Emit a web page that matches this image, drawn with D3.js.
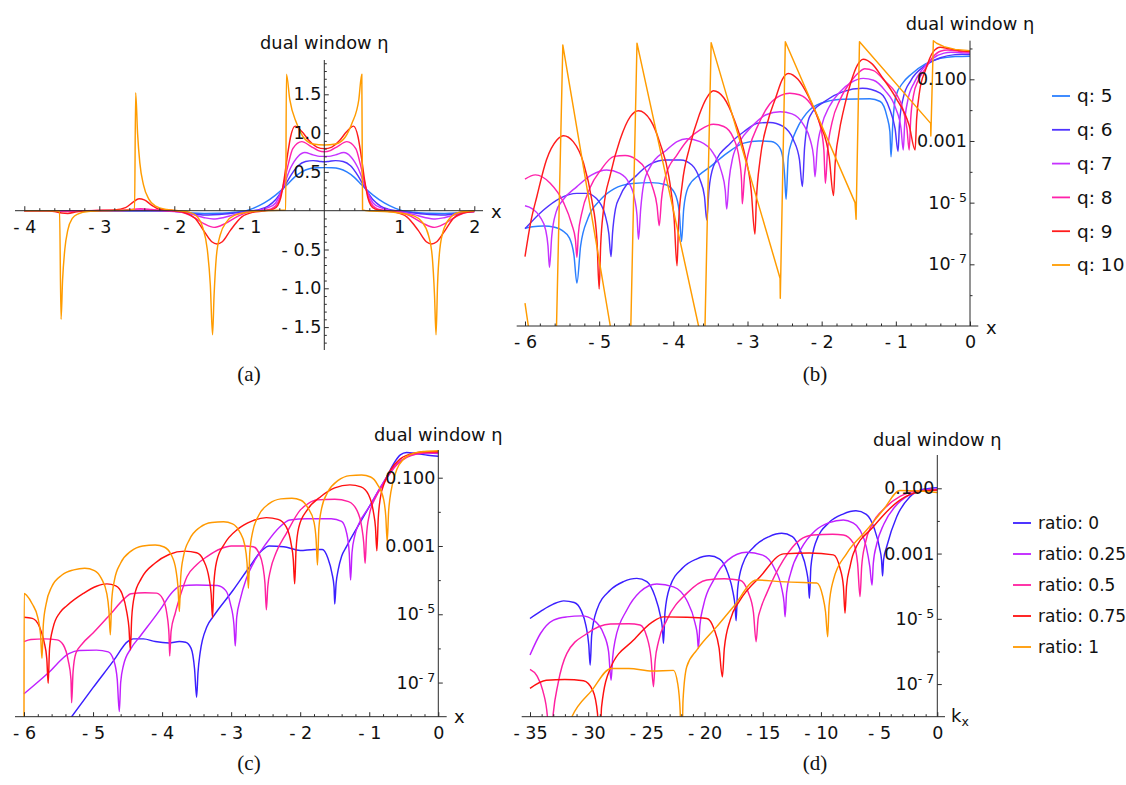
<!DOCTYPE html>
<html>
<head>
<meta charset="utf-8">
<script src="https://cdn.jsdelivr.net/npm/d3@7"></script>
<style>
  body { margin: 0; background: #fff; }
  svg { display: block; }
</style>
</head>
<body>
<svg id="fig" width="1126" height="785"></svg>
<script>
// ---------- panel (a): dual window eta, linear scale, [x, eta] ----------
const aQ5 = [[-4,0],[-2.1,0],[-1.9,-0.015],[-1.75,-0.03],[-1.6,-0.035],[-1.4,-0.033],[-1.2,-0.02],[-1.05,-0.003],[-0.95,0.03],[-0.8,0.1],[-0.65,0.2],[-0.5,0.33],[-0.4,0.43],[-0.3,0.5],[-0.2,0.54],[-0.1,0.553],[0,0.555],[0.1,0.553],[0.2,0.54],[0.3,0.5],[0.4,0.43],[0.5,0.33],[0.65,0.2],[0.8,0.1],[0.95,0.03],[1.05,-0.003],[1.2,-0.02],[1.4,-0.033],[1.6,-0.035],[1.75,-0.03],[1.9,-0.015],[2,-0.01]];
const aQ6 = [[-4,0],[-2,0],[-1.85,-0.02],[-1.7,-0.045],[-1.55,-0.056],[-1.4,-0.05],[-1.2,-0.03],[-1,-0.005],[-0.85,0.02],[-0.75,0.06],[-0.65,0.14],[-0.55,0.28],[-0.45,0.45],[-0.35,0.58],[-0.25,0.635],[-0.15,0.645],[-0.06,0.635],[0,0.63],[0.06,0.635],[0.15,0.645],[0.25,0.635],[0.35,0.58],[0.45,0.45],[0.55,0.28],[0.65,0.14],[0.75,0.06],[0.85,0.02],[1,-0.005],[1.2,-0.03],[1.4,-0.05],[1.55,-0.056],[1.7,-0.045],[1.85,-0.02],[2,-0.008]];
const aQ7 = [[-4,0],[-2.7,0],[-2.45,0.008],[-2.2,0],[-1.9,-0.02],[-1.75,-0.05],[-1.6,-0.09],[-1.48,-0.107],[-1.35,-0.09],[-1.2,-0.05],[-1,-0.01],[-0.85,0.01],[-0.75,0.04],[-0.65,0.1],[-0.55,0.3],[-0.45,0.55],[-0.35,0.7],[-0.26,0.75],[-0.15,0.72],[-0.06,0.7],[0,0.7],[0.06,0.7],[0.15,0.72],[0.26,0.75],[0.35,0.7],[0.45,0.55],[0.55,0.3],[0.65,0.1],[0.75,0.04],[0.85,0.01],[1,-0.01],[1.2,-0.05],[1.35,-0.09],[1.48,-0.107],[1.6,-0.09],[1.75,-0.05],[1.9,-0.02],[2,-0.01]];
const aQ8 = [[-4,0],[-3.6,0],[-3.45,-0.01],[-3.2,0],[-2.8,0.005],[-2.6,0.015],[-2.45,0.025],[-2.3,0.015],[-2.1,0],[-1.9,-0.02],[-1.75,-0.08],[-1.6,-0.17],[-1.47,-0.215],[-1.33,-0.17],[-1.15,-0.07],[-1,-0.015],[-0.85,0],[-0.72,0.02],[-0.65,0.06],[-0.59,0.17],[-0.54,0.35],[-0.48,0.6],[-0.42,0.8],[-0.3,0.89],[-0.18,0.83],[-0.08,0.775],[0,0.76],[0.08,0.775],[0.18,0.83],[0.3,0.89],[0.42,0.8],[0.48,0.6],[0.54,0.35],[0.59,0.17],[0.65,0.06],[0.72,0.02],[0.85,0],[1,-0.015],[1.15,-0.07],[1.33,-0.17],[1.47,-0.215],[1.6,-0.17],[1.75,-0.08],[1.9,-0.02],[2,-0.01]];
const aQ9 = [[-4,0],[-3.7,0],[-3.6,-0.01],[-3.5,-0.03],[-3.42,-0.035],[-3.3,-0.015],[-3.1,0],[-2.8,0.01],[-2.65,0.04],[-2.55,0.11],[-2.47,0.155],[-2.4,0.14],[-2.3,0.07],[-2.2,0.02],[-2,0],[-1.85,-0.03],[-1.72,-0.1],[-1.6,-0.27],[-1.5,-0.4],[-1.43,-0.43],[-1.36,-0.4],[-1.25,-0.25],[-1.1,-0.08],[-0.95,-0.02],[-0.82,-0.005],[-0.75,0.005],[-0.68,0.02],[-0.62,0.07],[-0.58,0.17],[-0.54,0.38],[-0.49,0.72],[-0.45,0.95],[-0.39,1.09],[-0.3,1.02],[-0.2,0.9],[-0.1,0.82],[0,0.8],[0.1,0.82],[0.2,0.9],[0.3,1.02],[0.39,1.09],[0.45,0.95],[0.49,0.72],[0.54,0.38],[0.58,0.17],[0.62,0.07],[0.68,0.02],[0.75,0.005],[0.82,-0.005],[0.95,-0.02],[1.1,-0.08],[1.25,-0.25],[1.36,-0.4],[1.43,-0.43],[1.5,-0.4],[1.6,-0.27],[1.72,-0.1],[1.85,-0.03],[2,-0.01]];
const aQ10 = [[-4,0],[-3.6,0],[-3.53,-0.01],[-3.51,-1.4],[-3.49,-0.9],[-3.46,-0.5],[-3.42,-0.25],[-3.36,-0.1],[-3.28,-0.04],[-3.15,-0.01],[-2.9,0],[-2.6,0.01],[-2.53,0.02],[-2.515,1.52],[-2.49,1],[-2.46,0.62],[-2.41,0.33],[-2.34,0.15],[-2.25,0.06],[-2.1,0.015],[-1.95,0],[-1.8,-0.02],[-1.7,-0.07],[-1.62,-0.22],[-1.56,-0.5],[-1.52,-0.95],[-1.49,-1.6],[-1.47,-1.1],[-1.44,-0.6],[-1.39,-0.32],[-1.3,-0.14],[-1.2,-0.06],[-1,-0.015],[-0.8,0],[-0.6,0.005],[-0.515,0.01],[-0.505,1.76],[-0.46,1.43],[-0.37,1.13],[-0.28,0.95],[-0.15,0.86],[0,0.846],[0.15,0.86],[0.28,0.95],[0.37,1.13],[0.46,1.43],[0.5,1.76],[0.51,0.01],[0.6,-0.005],[0.8,-0.01],[1,-0.03],[1.2,-0.07],[1.3,-0.14],[1.39,-0.32],[1.44,-0.6],[1.47,-1.1],[1.49,-1.6],[1.51,-0.95],[1.54,-0.5],[1.6,-0.22],[1.7,-0.07],[1.8,-0.02],[2,0]];

// ---------- panel (b): [x, log10 |eta|] ----------
const bQ5 = [[-6,-5.83],[-5.9,-5.78],[-5.75,-5.76],[-5.6,-5.8],[-5.5,-5.9],[-5.4,-6.15],[-5.34,-6.7],[-5.3,-7.61],[-5.25,-6.4],[-5.15,-5.5],[-5,-4.95],[-4.8,-4.55],[-4.55,-4.38],[-4.3,-4.35],[-4.1,-4.42],[-3.98,-4.7],[-3.92,-5.3],[-3.89,-6.26],[-3.86,-5.2],[-3.8,-4.5],[-3.65,-4.1],[-3.5,-3.83],[-3.28,-3.4],[-3.05,-3.07],[-2.85,-3],[-2.68,-3.02],[-2.57,-3.2],[-2.52,-3.6],[-2.5,-4.1],[-2.48,-4.89],[-2.45,-3.5],[-2.4,-3],[-2.34,-2.64],[-2.16,-1.99],[-1.93,-1.72],[-1.71,-1.65],[-1.35,-1.63],[-1.21,-1.72],[-1.12,-2.2],[-1.08,-2.7],[-1.065,-3.51],[-1.04,-2.4],[-1,-1.55],[-0.9,-1.1],[-0.8,-0.85],[-0.6,-0.5],[-0.4,-0.32],[-0.2,-0.26],[0,-0.25]];
const bQ6 = [[-6,-5.85],[-5.75,-5.24],[-5.53,-4.86],[-5.3,-4.7],[-5.17,-4.7],[-5.04,-4.86],[-4.92,-5.4],[-4.87,-6],[-4.84,-6.75],[-4.82,-6],[-4.78,-5.2],[-4.72,-4.8],[-4.49,-4.1],[-4.31,-3.75],[-4.1,-3.62],[-3.9,-3.62],[-3.75,-3.78],[-3.64,-4.26],[-3.58,-4.8],[-3.55,-5.56],[-3.52,-4.6],[-3.46,-3.83],[-3.23,-3.07],[-3.05,-2.7],[-2.85,-2.42],[-2.7,-2.4],[-2.52,-2.53],[-2.38,-2.97],[-2.3,-3.6],[-2.26,-4.48],[-2.23,-3.2],[-2.16,-2.2],[-1.93,-1.67],[-1.71,-1.4],[-1.45,-1.29],[-1.21,-1.45],[-1.08,-1.99],[-1.01,-2.6],[-0.97,-3.34],[-0.95,-2.4],[-0.9,-1.6],[-0.8,-1.05],[-0.6,-0.55],[-0.4,-0.3],[-0.2,-0.2],[-0.1,-0.19],[0,-0.2]];
const bQ7 = [[-6,-5.1],[-5.9,-5.2],[-5.8,-5.45],[-5.72,-5.9],[-5.69,-6.4],[-5.67,-7.1],[-5.64,-6.1],[-5.58,-5.3],[-5.5,-4.95],[-5.3,-4.48],[-5.1,-4.1],[-4.9,-3.94],[-4.72,-4.05],[-4.6,-4.35],[-4.52,-4.9],[-4.49,-5.4],[-4.47,-6.19],[-4.44,-5.2],[-4.4,-4.4],[-4.31,-3.83],[-4.09,-3.29],[-3.95,-3.02],[-3.82,-2.93],[-3.64,-3.02],[-3.46,-3.4],[-3.35,-4],[-3.3,-4.6],[-3.28,-5.21],[-3.25,-4.3],[-3.2,-3.55],[-3.1,-3],[-2.95,-2.55],[-2.75,-2.15],[-2.56,-2.05],[-2.4,-2.12],[-2.25,-2.45],[-2.15,-3],[-2.11,-3.5],[-2.09,-4.16],[-2.06,-3.25],[-2,-2.5],[-1.9,-1.9],[-1.75,-1.4],[-1.6,-1.1],[-1.44,-0.97],[-1.3,-1.03],[-1.15,-1.35],[-1,-1.95],[-0.93,-2.6],[-0.9,-3.29],[-0.88,-2.4],[-0.84,-1.7],[-0.75,-1.1],[-0.65,-0.7],[-0.5,-0.32],[-0.35,-0.15],[-0.26,-0.125],[-0.12,-0.14],[0,-0.155]];
const bQ8 = [[-6,-4.24],[-5.86,-4.1],[-5.66,-4.37],[-5.48,-5],[-5.37,-5.7],[-5.32,-6.2],[-5.3,-6.77],[-5.28,-6],[-5.24,-5.4],[-5.12,-4.5],[-4.98,-3.95],[-4.8,-3.5],[-4.65,-3.47],[-4.5,-3.6],[-4.38,-3.9],[-4.28,-4.5],[-4.22,-5.1],[-4.19,-5.75],[-4.16,-4.9],[-4.1,-4.1],[-3.95,-3.45],[-3.8,-2.95],[-3.64,-2.64],[-3.46,-2.46],[-3.32,-2.53],[-3.19,-2.9],[-3.11,-3.6],[-3.08,-4.3],[-3.07,-5.04],[-3.04,-4.1],[-2.98,-3.3],[-2.85,-2.45],[-2.7,-1.8],[-2.55,-1.52],[-2.43,-1.45],[-2.3,-1.5],[-2.15,-1.8],[-2.02,-2.5],[-1.97,-3.3],[-1.95,-4.37],[-1.92,-3.3],[-1.86,-2.4],[-1.75,-1.65],[-1.6,-1.05],[-1.5,-0.78],[-1.42,-0.66],[-1.3,-0.72],[-1.15,-1.05],[-1,-1.45],[-0.9,-2],[-0.85,-2.6],[-0.82,-3.29],[-0.8,-2.3],[-0.76,-1.5],[-0.7,-1.05],[-0.6,-0.65],[-0.5,-0.28],[-0.4,-0.09],[-0.3,-0.05],[-0.15,-0.09],[0,-0.12]];
const bQ9 = [[-6,-6.75],[-5.92,-5.6],[-5.84,-4.8],[-5.71,-3.61],[-5.57,-2.97],[-5.48,-2.83],[-5.35,-3.02],[-5.21,-3.72],[-5.1,-4.9],[-5.03,-6.2],[-5,-7.8],[-4.98,-6.4],[-4.94,-5.2],[-4.85,-4.1],[-4.72,-2.97],[-4.58,-2.21],[-4.47,-2.02],[-4.31,-2.32],[-4.18,-3.07],[-4.06,-4.16],[-3.99,-5.5],[-3.95,-7.05],[-3.93,-5.7],[-3.88,-4.4],[-3.78,-3.2],[-3.65,-2.15],[-3.55,-1.6],[-3.46,-1.37],[-3.32,-1.6],[-3.18,-2.3],[-3.05,-3.3],[-2.95,-4.6],[-2.9,-6.02],[-2.88,-4.9],[-2.83,-3.6],[-2.73,-2.4],[-2.62,-1.6],[-2.53,-1],[-2.45,-0.81],[-2.32,-1],[-2.18,-1.55],[-2.03,-2.4],[-1.9,-3.5],[-1.84,-4.77],[-1.82,-3.8],[-1.77,-2.8],[-1.7,-1.95],[-1.6,-1.05],[-1.52,-0.55],[-1.44,-0.35],[-1.32,-0.5],[-1.18,-0.95],[-1,-1.6],[-0.82,-2.5],[-0.74,-3.29],[-0.72,-2.3],[-0.68,-1.4],[-0.6,-0.7],[-0.5,-0.12],[-0.4,0.04],[-0.3,0],[-0.15,-0.07],[0,-0.1]];
const bQ10 = [[-6,-8.26],[-5.955,-9],[-5.94,-9.6],[-5.585,-9.6],[-5.575,-9],[-5.49,0.11],[-4.85,-9],[-4.83,-9.6],[-4.58,-9.6],[-4.573,-9],[-4.49,0.17],[-3.66,-9],[-3.64,-9.6],[-3.58,-9.6],[-3.573,-9],[-3.49,0.19],[-2.561,-7.45],[-2.558,-8.1],[-2.49,0.22],[-1.55,-5],[-1.536,-5.54],[-1.49,0.22],[-0.53,-2.43],[-0.528,-2.84],[-0.494,0.25],[-0.45,0.17],[-0.35,0.06],[-0.2,-0.03],[0,-0.07]];

// ---------- panel (c): [x, log10 |eta|] ----------
const cR0 = [[-5.4,-8.25],[-5.31,-8],[-5,-7.15],[-4.7,-6.35],[-4.5,-5.8],[-4.42,-5.72],[-4.27,-5.72],[-4.1,-5.8],[-3.9,-5.84],[-3.75,-5.8],[-3.66,-5.82],[-3.58,-6],[-3.53,-6.6],[-3.5,-7.43],[-3.48,-6.7],[-3.45,-6.14],[-3.35,-5.36],[-3.26,-5.07],[-2.97,-4.29],[-2.73,-3.6],[-2.55,-3.12],[-2.45,-3],[-2.24,-3.02],[-2,-3.13],[-1.8,-3.1],[-1.68,-3.1],[-1.6,-3.35],[-1.54,-3.8],[-1.51,-4.2],[-1.5,-4.7],[-1.48,-4.1],[-1.45,-3.7],[-1.4,-3.3],[-1.33,-3.02],[-1.1,-2.2],[-0.9,-1.5],[-0.74,-0.95],[-0.65,-0.6],[-0.55,-0.33],[-0.46,-0.26],[-0.3,-0.3],[-0.15,-0.34],[0,-0.37]];
const cR25 = [[-6,-7.33],[-5.65,-6.72],[-5.35,-6.15],[-5.2,-6.06],[-4.95,-6.05],[-4.78,-6.1],[-4.7,-6.35],[-4.65,-6.9],[-4.62,-7.85],[-4.6,-7],[-4.56,-6.5],[-4.45,-6],[-4.32,-5.65],[-4.03,-4.87],[-3.85,-4.35],[-3.74,-4.17],[-3.5,-4.14],[-3.2,-4.16],[-3.08,-4.3],[-3.01,-4.7],[-2.96,-5.3],[-2.94,-5.93],[-2.92,-5.1],[-2.87,-4.58],[-2.78,-3.95],[-2.68,-3.51],[-2.49,-2.92],[-2.3,-2.45],[-2.15,-2.24],[-1.9,-2.2],[-1.55,-2.2],[-1.4,-2.28],[-1.33,-2.6],[-1.29,-3.2],[-1.27,-4],[-1.25,-3.2],[-1.21,-2.7],[-1.15,-2.35],[-1,-1.85],[-0.85,-1.32],[-0.74,-0.96],[-0.6,-0.6],[-0.45,-0.38],[-0.3,-0.3],[-0.15,-0.28],[0,-0.29]];
const cR50 = [[-6,-5.8],[-5.9,-5.74],[-5.7,-5.72],[-5.52,-5.75],[-5.43,-5.9],[-5.36,-6.35],[-5.32,-6.9],[-5.31,-7.59],[-5.29,-6.7],[-5.25,-6.15],[-5.15,-5.85],[-5,-5.55],[-4.75,-5],[-4.55,-4.55],[-4.45,-4.4],[-4.25,-4.37],[-4.08,-4.38],[-3.99,-4.55],[-3.93,-5],[-3.9,-5.6],[-3.89,-6.22],[-3.87,-5.5],[-3.81,-4.97],[-3.72,-4.35],[-3.64,-3.9],[-3.5,-3.55],[-3.35,-3.31],[-3.15,-3.08],[-3,-3],[-2.8,-3],[-2.68,-3.02],[-2.6,-3.2],[-2.54,-3.6],[-2.51,-4.1],[-2.49,-4.87],[-2.47,-4.2],[-2.43,-3.7],[-2.35,-3.2],[-2.2,-2.63],[-2,-1.95],[-1.88,-1.75],[-1.76,-1.65],[-1.5,-1.63],[-1.3,-1.7],[-1.18,-1.95],[-1.11,-2.43],[-1.08,-2.9],[-1.06,-3.51],[-1.04,-2.7],[-1,-2.1],[-0.9,-1.55],[-0.8,-1.2],[-0.74,-1],[-0.6,-0.62],[-0.45,-0.4],[-0.3,-0.3],[-0.15,-0.27],[0,-0.26]];
const cR75 = [[-6,-5.09],[-5.88,-5.12],[-5.78,-5.35],[-5.71,-5.8],[-5.67,-6.3],[-5.65,-7.02],[-5.63,-6],[-5.58,-5.4],[-5.48,-4.95],[-5.38,-4.75],[-5.14,-4.39],[-4.95,-4.18],[-4.8,-4.11],[-4.67,-4.17],[-4.58,-4.4],[-4.51,-4.95],[-4.48,-5.4],[-4.46,-6.04],[-4.44,-5.1],[-4.4,-4.45],[-4.3,-3.95],[-4.1,-3.5],[-3.9,-3.25],[-3.67,-3.15],[-3.5,-3.2],[-3.4,-3.42],[-3.32,-3.95],[-3.29,-4.4],[-3.27,-5.1],[-3.25,-4.1],[-3.21,-3.45],[-3.1,-2.95],[-2.9,-2.5],[-2.7,-2.27],[-2.49,-2.17],[-2.32,-2.22],[-2.2,-2.45],[-2.13,-2.95],[-2.1,-3.4],[-2.08,-4.11],[-2.06,-3.1],[-2.02,-2.45],[-1.9,-1.95],[-1.7,-1.55],[-1.5,-1.3],[-1.28,-1.21],[-1.12,-1.27],[-1.01,-1.5],[-0.94,-2],[-0.91,-2.45],[-0.89,-3.14],[-0.87,-2.2],[-0.84,-1.6],[-0.78,-1.15],[-0.7,-0.8],[-0.55,-0.45],[-0.35,-0.28],[-0.15,-0.24],[0,-0.24]];
const cR100 = [[-6,-8.2],[-5.998,-4.39],[-5.96,-4.45],[-5.88,-4.7],[-5.8,-5.1],[-5.76,-5.6],[-5.74,-6.29],[-5.72,-5.3],[-5.68,-4.7],[-5.6,-4.2],[-5.45,-3.85],[-5.28,-3.7],[-5.12,-3.65],[-4.98,-3.72],[-4.88,-3.95],[-4.8,-4.4],[-4.77,-4.9],[-4.75,-5.6],[-4.73,-4.6],[-4.69,-4],[-4.6,-3.5],[-4.45,-3.15],[-4.28,-3],[-4.1,-2.97],[-3.97,-3.03],[-3.87,-3.25],[-3.8,-3.7],[-3.77,-4.2],[-3.75,-4.92],[-3.73,-3.9],[-3.69,-3.3],[-3.6,-2.8],[-3.45,-2.45],[-3.28,-2.31],[-3.11,-2.29],[-2.98,-2.35],[-2.88,-2.57],[-2.8,-3],[-2.77,-3.5],[-2.75,-4.24],[-2.73,-3.2],[-2.69,-2.6],[-2.6,-2.1],[-2.45,-1.76],[-2.28,-1.62],[-2.12,-1.6],[-1.99,-1.66],[-1.89,-1.88],[-1.8,-2.3],[-1.77,-2.8],[-1.75,-3.56],[-1.73,-2.5],[-1.69,-1.9],[-1.6,-1.42],[-1.45,-1.08],[-1.28,-0.94],[-1.11,-0.92],[-0.98,-0.98],[-0.88,-1.2],[-0.79,-1.65],[-0.76,-2.15],[-0.74,-2.87],[-0.72,-2],[-0.7,-1.6],[-0.66,-1.15],[-0.6,-0.75],[-0.5,-0.45],[-0.35,-0.28],[-0.2,-0.23],[0,-0.21]];

// ---------- panel (d): [k_x, log10 |eta|] ----------
const dR0 = [[-35,-4.99],[-34,-4.75],[-33,-4.55],[-32.1,-4.45],[-31.2,-4.5],[-30.6,-4.75],[-30.2,-5.2],[-29.95,-5.8],[-29.83,-6.42],[-29.7,-5.5],[-29.26,-4.73],[-28.1,-4.12],[-26.97,-3.86],[-25.82,-3.76],[-24.96,-3.86],[-24.25,-4.32],[-23.8,-4.9],[-23.62,-5.3],[-23.53,-5.75],[-23.4,-4.8],[-23,-4.04],[-21.85,-3.43],[-20.7,-3.17],[-19.6,-3.07],[-18.7,-3.17],[-18,-3.6],[-17.55,-4.2],[-17.38,-4.6],[-17.29,-5.06],[-17.16,-4.1],[-16.75,-3.35],[-15.6,-2.74],[-14.45,-2.48],[-13.37,-2.38],[-12.45,-2.48],[-11.75,-2.92],[-11.25,-3.5],[-11.08,-3.9],[-10.99,-4.37],[-10.86,-3.4],[-10.45,-2.66],[-9.3,-2.05],[-8.1,-1.79],[-6.99,-1.69],[-6.1,-1.8],[-5.4,-2.25],[-4.95,-2.85],[-4.79,-3.2],[-4.7,-3.69],[-4.62,-3.2],[-4.35,-2.79],[-3.49,-1.87],[-2.35,-1.26],[-1.2,-1.03],[0,-0.98]];
const dR25 = [[-35,-6.11],[-34.1,-5.45],[-32.98,-5.04],[-31.83,-4.94],[-30.55,-4.91],[-29.54,-5.04],[-28.69,-5.45],[-28.25,-6],[-28.03,-6.88],[-27.9,-6.2],[-27.68,-5.65],[-26.68,-4.73],[-25.54,-4.17],[-24.1,-3.93],[-22.67,-4.02],[-21.53,-4.43],[-20.81,-5.14],[-20.62,-5.5],[-20.53,-5.91],[-20.4,-5.2],[-20.1,-4.6],[-19.2,-3.8],[-18,-3.2],[-16.4,-2.96],[-15,-3.05],[-14,-3.45],[-13.35,-4.1],[-13.17,-4.5],[-13.08,-4.94],[-12.95,-4.2],[-12.6,-3.6],[-11.7,-2.85],[-10.5,-2.3],[-9.3,-2.05],[-8.07,-1.97],[-7.3,-2.05],[-6.64,-2.28],[-6.1,-2.8],[-5.8,-3.4],[-5.61,-3.97],[-5.5,-3.3],[-5.2,-2.7],[-4.6,-2.1],[-3.6,-1.55],[-2.4,-1.2],[-1.2,-1.05],[0,-1.02]];
const dR50 = [[-35,-6.55],[-34.4,-6.75],[-33.9,-7.2],[-33.5,-8],[-33.27,-9.2],[-33,-7.9],[-32.6,-7],[-31.83,-6.06],[-30.1,-5.45],[-28.1,-5.16],[-26.5,-5.15],[-25.54,-5.19],[-24.96,-5.55],[-24.6,-6.2],[-24.39,-7.08],[-24.25,-6.3],[-23.96,-5.7],[-23.25,-5.04],[-21.53,-4.22],[-19.81,-3.81],[-18.3,-3.77],[-16.95,-3.82],[-16.23,-4.2],[-15.8,-4.8],[-15.57,-5.7],[-15.4,-5],[-15.23,-4.75],[-14.66,-4.22],[-13.23,-3.2],[-11.8,-2.58],[-10.65,-2.43],[-9,-2.41],[-8.07,-2.43],[-7.21,-2.68],[-6.85,-3.3],[-6.64,-4.32],[-6.5,-3.4],[-6.2,-2.7],[-5.6,-2.1],[-4.5,-1.6],[-3.2,-1.25],[-1.8,-1.08],[0,-1.05]];
const dR75 = [[-35,-7.13],[-33.6,-6.88],[-32,-6.86],[-30.4,-6.9],[-29.6,-7.2],[-29.2,-7.9],[-29.03,-9.2],[-28.85,-7.7],[-28.1,-6.52],[-26.1,-5.65],[-24.5,-5.1],[-23.53,-4.94],[-21.5,-4.95],[-19.81,-4.99],[-19.2,-5.3],[-18.75,-5.9],[-18.47,-6.78],[-18.3,-5.9],[-17.8,-5.04],[-16.95,-4.43],[-15.23,-3.71],[-13.23,-3.01],[-11,-2.98],[-8.93,-3.04],[-8.36,-3.45],[-8.07,-4],[-7.93,-4.83],[-7.8,-4],[-7.5,-3.4],[-7.21,-3],[-5.5,-2.18],[-3.21,-1.36],[-1.49,-1.1],[0,-1.05]];
const dR100 = [[-31.8,-8.35],[-31.4,-8],[-29.7,-7.2],[-28.03,-6.52],[-26.5,-6.52],[-24.5,-6.6],[-22.67,-6.58],[-22.3,-7],[-22.1,-7.8],[-21.96,-9.2],[-21.85,-7.5],[-21.53,-6.47],[-20.67,-5.96],[-18.95,-5.24],[-17.52,-4.63],[-15.52,-3.81],[-13.5,-3.86],[-11.5,-3.89],[-10.36,-3.9],[-9.85,-4.3],[-9.6,-4.8],[-9.42,-5.55],[-9.3,-4.6],[-8.93,-3.81],[-7.79,-3],[-6.07,-2.28],[-4.64,-1.66],[-3.21,-1.07],[-1.5,-1.08],[0,-1.13]];

// legends
const qLabels = ["q: 5", "q: 6", "q: 7", "q: 8", "q: 9", "q: 10"];
const qColors = ["#2b7fff", "#4f33ff", "#c632ff", "#ff22aa", "#ff1c1c", "#ff9c00"];
const ratioLabels = ["ratio: 0", "ratio: 0.25", "ratio: 0.5", "ratio: 0.75", "ratio: 1"];
const ratioColors = ["#3a1fff", "#c020ff", "#ff20a0", "#ff1010", "#ff9900"];

const FONT = "'DejaVu Sans', sans-serif";
const svg = d3.select("#fig");

const fmtSigned = d => (d < 0 ? "- " : "") + Math.abs(d);
const fmtSigned1 = d => (d < 0 ? "- " : "") + Math.abs(d).toFixed(1);
const fmtLog = d => {
  const e = Math.round(Math.log10(d));
  return e >= -3 ? d.toFixed(3) : "POW" + e;
};

function panel(cfg) {
  const g = svg.append("g").attr("id", "panel-" + cfg.id);
  const x = d3.scaleLinear().domain(cfg.xDomain).range(cfg.xRange);
  const y = cfg.log
    ? d3.scaleLog().domain(cfg.yDomain).range(cfg.yRange)
    : d3.scaleLinear().domain(cfg.yDomain).range(cfg.yRange);
  const yval = cfg.log ? d => Math.pow(10, d[1]) : d => d[1];
  const ox = x(0);
  const oy = cfg.log ? cfg.yRange[0] : y(0);

  // clip region
  g.append("clipPath").attr("id", "clip-" + cfg.id)
    .append("rect")
    .attr("x", cfg.clip[0]).attr("y", cfg.clip[1])
    .attr("width", cfg.clip[2] - cfg.clip[0])
    .attr("height", cfg.clip[3] - cfg.clip[1]);

  // curves
  const curves = g.append("g").attr("clip-path", `url(#clip-${cfg.id})`);
  cfg.series.forEach(s => {
    const line = d3.line()
      .x(d => x(d[0]))
      .y(d => y(yval(d)))
      .curve(s.linear ? d3.curveLinear : d3.curveMonotoneX);
    curves.append("path")
      .datum(s.data)
      .attr("fill", "none")
      .attr("stroke", s.color)
      .attr("stroke-width", 1.45)
      .attr("stroke-linejoin", "round")
      .attr("d", line);
  });

  // axis lines
  const axisColor = "#2b2b2b";
  g.append("line")
    .attr("x1", cfg.xAxisPx[0]).attr("x2", cfg.xAxisPx[1])
    .attr("y1", oy).attr("y2", oy)
    .attr("stroke", axisColor).attr("stroke-width", 1);
  g.append("line")
    .attr("x1", ox).attr("x2", ox)
    .attr("y1", cfg.yAxisPx[0]).attr("y2", cfg.yAxisPx[1])
    .attr("stroke", axisColor).attr("stroke-width", 1);

  // x ticks
  const xa = g.append("g").attr("transform", `translate(0,${oy})`)
    .call(d3.axisBottom(x).tickValues(cfg.xMajor).tickSizeInner(-4.5).tickSizeOuter(0)
      .tickPadding(9.5).tickFormat(cfg.xFmt));
  const xm = g.append("g").attr("transform", `translate(0,${oy})`)
    .call(d3.axisBottom(x).tickValues(cfg.xMinor).tickSizeInner(-2.5).tickSizeOuter(0).tickFormat(() => ""));

  // y ticks
  const ya = g.append("g").attr("transform", `translate(${ox},0)`)
    .call(d3.axisLeft(y).tickValues(cfg.yMajor).tickSizeInner(-4.5).tickSizeOuter(0)
      .tickPadding(3).tickFormat(cfg.yFmt));
  const ym = g.append("g").attr("transform", `translate(${ox},0)`)
    .call(d3.axisLeft(y).tickValues(cfg.yMinor).tickSizeInner(-2.5).tickSizeOuter(0).tickFormat(() => ""));

  [xa, xm, ya, ym].forEach(a => {
    a.select(".domain").remove();
    a.attr("font-family", FONT).attr("font-size", 17.5);
    a.selectAll(".tick line").attr("stroke", axisColor);
    a.selectAll(".tick text").attr("fill", "#111");
  });

  // powers of ten as 10 with a raised exponent
  ya.selectAll(".tick text").each(function() {
    const t = d3.select(this);
    const s = t.text();
    if (s.startsWith("POW")) {
      const e = +s.slice(3);
      t.text("");
      t.append("tspan").text("10");
      t.append("tspan").attr("font-size", 12.5).attr("dy", -7).text("- " + Math.abs(e));
    }
  });

  // axis labels
  g.append("text")
    .attr("x", ox).attr("y", cfg.titleY)
    .attr("text-anchor", "middle")
    .attr("font-family", FONT).attr("font-size", 17.8).attr("fill", "#111")
    .text("dual window η");
  const xl = g.append("text")
    .attr("x", cfg.xLabelPos[0]).attr("y", cfg.xLabelPos[1])
    .attr("font-family", FONT).attr("font-size", 18).attr("fill", "#111");
  if (cfg.kx) {
    xl.append("tspan").text("k");
    xl.append("tspan").attr("font-size", 12.5).attr("dy", 4).text("x");
  } else {
    xl.text("x");
  }

  // caption
  svg.append("text")
    .attr("x", cfg.caption[0]).attr("y", cfg.caption[1])
    .attr("text-anchor", "middle")
    .attr("font-family", "'Liberation Serif', 'DejaVu Serif', serif")
    .attr("font-size", 21).attr("fill", "#111")
    .text(`(${cfg.id})`);
}

function legend(labels, colors, x0, y0, step, size) {
  const lg = svg.append("g").attr("font-family", FONT).attr("font-size", size);
  labels.forEach((lab, i) => {
    const yy = y0 + i * step;
    lg.append("line")
      .attr("x1", x0).attr("x2", x0 + 18)
      .attr("y1", yy).attr("y2", yy)
      .attr("stroke", colors[i]).attr("stroke-width", 1.8);
    lg.append("text")
      .attr("x", x0 + 25).attr("y", yy).attr("dy", "0.35em")
      .attr("fill", "#111")
      .text(lab);
  });
}

const range = (a, b, step) => d3.range(Math.round(a / step), Math.round(b / step) + 1).map(i => +(i * step).toFixed(4));
const notMultiple = m => v => Math.abs(v / m - Math.round(v / m)) > 1e-6;

// (a)
panel({
  id: "a", log: false,
  xDomain: [-4, 2], xRange: [24.3, 474.3],
  yDomain: [-1.5, 1.5], yRange: [327.1, 94.3],
  clip: [10, 58, 490, 352],
  xAxisPx: [15, 483], yAxisPx: [60, 350],
  xMajor: [-4, -3, -2, -1, 1, 2], xMinor: range(-4, 2, 0.2).filter(notMultiple(1)),
  yMajor: [-1.5, -1, -0.5, 0.5, 1, 1.5], yMinor: range(-1.7, 1.9, 0.1).filter(notMultiple(0.5)),
  xFmt: fmtSigned, yFmt: fmtSigned1,
  titleY: 49, xLabelPos: [491, 218], caption: [249, 381],
  series: [aQ5, aQ6, aQ7, aQ8, aQ9, aQ10].map((d, i) => ({ data: d, color: qColors[i] }))
});

// (b)
panel({
  id: "b", log: true,
  xDomain: [-6, 0], xRange: [525, 970],
  yDomain: [1e-9, 1e-1], yRange: [326, 79.3],
  clip: [516, 39, 980, 326],
  xAxisPx: [516.7, 978.3], yAxisPx: [40.7, 326],
  xMajor: d3.range(-6, 1), xMinor: range(-6, 0, 0.2).filter(notMultiple(1)),
  yMajor: [1e-1, 1e-3, 1e-5, 1e-7], yMinor: [1, 1e-2, 1e-4, 1e-6, 1e-8],
  xFmt: fmtSigned, yFmt: fmtLog,
  titleY: 30, xLabelPos: [986, 334], caption: [815, 381],
  series: [bQ5, bQ6, bQ7, bQ8, bQ9, bQ10].map((d, i) => ({ data: d, color: qColors[i], linear: i === 5 }))
});

// (c)
panel({
  id: "c", log: true,
  xDomain: [-6, 0], xRange: [24, 438.3],
  yDomain: [1e-8, 1e-1], yRange: [716.7, 477.7],
  clip: [14, 449, 450, 716.7],
  xAxisPx: [15, 446.7], yAxisPx: [450, 716.7],
  xMajor: d3.range(-6, 1), xMinor: range(-6, 0, 0.2).filter(notMultiple(1)),
  yMajor: [1e-1, 1e-3, 1e-5, 1e-7], yMinor: [1e-2, 1e-4, 1e-6],
  xFmt: fmtSigned, yFmt: fmtLog,
  titleY: 441, xLabelPos: [454, 723], caption: [249, 770],
  series: [cR0, cR25, cR50, cR75, cR100].map((d, i) => ({ data: d, color: ratioColors[i] }))
});

// (d)
panel({
  id: "d", log: true, kx: true,
  xDomain: [-35, 0], xRange: [530, 937.3],
  yDomain: [1e-8, 1e-1], yRange: [716.7, 488.3],
  clip: [520, 454, 948, 716.7],
  xAxisPx: [521.7, 945], yAxisPx: [455, 716.7],
  xMajor: d3.range(-35, 1, 5), xMinor: d3.range(-35, 1).filter(notMultiple(5)),
  yMajor: [1e-1, 1e-3, 1e-5, 1e-7], yMinor: [1e-2, 1e-4, 1e-6],
  xFmt: fmtSigned, yFmt: fmtLog,
  titleY: 446, xLabelPos: [951, 722], caption: [815, 770],
  series: [dR0, dR25, dR50, dR75, dR100].map((d, i) => ({ data: d, color: ratioColors[i] }))
});

legend(qLabels, qColors, 1052, 96, 33.8, 18.5);
legend(ratioLabels, ratioColors, 1013, 523, 31, 17);
</script>
</body>
</html>
